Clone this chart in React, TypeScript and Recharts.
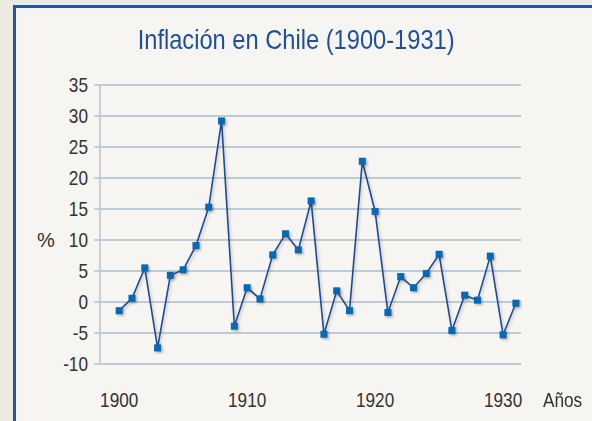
import { LineChart, Line, XAxis, YAxis, CartesianGrid } from "recharts";

const FONT = '"Liberation Sans", Arial, sans-serif';
const SQUEEZE = 0.86;

const years = [
  1900, 1901, 1902, 1903, 1904, 1905, 1906, 1907, 1908, 1909, 1910, 1911, 1912, 1913, 1914, 1915,
  1916, 1917, 1918, 1919, 1920, 1921, 1922, 1923, 1924, 1925, 1926, 1927, 1928, 1929, 1930, 1931,
];
const inflation = [
  -1.4, 0.6, 5.5, -7.4, 4.3, 5.2, 9.1, 15.3, 29.2, -3.9, 2.3, 0.5, 7.6, 11.0, 8.4, 16.3,
  -5.2, 1.8, -1.4, 22.7, 14.6, -1.7, 4.1, 2.3, 4.6, 7.7, -4.6, 1.1, 0.3, 7.4, -5.3, -0.2,
];
const xTicks = [1900, 1910, 1920, 1930];
const yTicks = [-10, -5, 0, 5, 10, 15, 20, 25, 30, 35];

const data = years.map((year, i) => ({ year, value: inflation[i] }));

const GRID = "#a9bccd";

// the original uses a condensed face; squeeze a regular one instead
function NarrowTick(props: any) {
  const { x, y, payload, textAnchor, dy } = props;
  return (
    <text
      x={x}
      y={y}
      dy={dy}
      textAnchor={textAnchor}
      fontSize={20}
      fill="#333"
      fontFamily={FONT}
      transform={`translate(${x},${y}) scale(${SQUEEZE},1) translate(${-x},${-y})`}
    >
      {payload.value}
    </text>
  );
}

function SquareDot(props: any) {
  const { cx, cy } = props;
  if (cx == null || cy == null) return null;
  return (
    <g>
      <rect x={cx - 2} y={cy - 2} width={7} height={7} fill="rgba(60,50,30,0.35)" filter="url(#blur)" />
      <rect x={cx - 3.5} y={cy - 3.5} width={7} height={7} fill="#0568b8" />
    </g>
  );
}

export default function App() {
  return (
    <div
      style={{
        position: "absolute",
        left: 0,
        top: 0,
        width: 592,
        height: 421,
        background: "#ece9e1",
        overflow: "hidden",
        fontFamily: FONT,
      }}
    >
      <div
        style={{
          position: "absolute",
          left: 13,
          top: 5,
          width: 600,
          height: 430,
          background: "#f6f5f1",
          borderLeft: "3px solid #1f56a5",
          borderTop: "3px solid #1f56a5",
        }}
      />
      <div
        style={{
          position: "absolute",
          left: 0,
          width: 592,
          top: 22,
          textAlign: "center",
          fontSize: 28,
          lineHeight: "36px",
          color: "#1f4f9c",
          transform: "scaleX(0.845)",
          transformOrigin: "297px 0",
        }}
      >
        Inflación en Chile (1900-1931)
      </div>
      <div style={{ position: "absolute", left: 37, top: 230, fontSize: 20, lineHeight: "20px", color: "#333" }}>%</div>
      <div
        style={{
          position: "absolute",
          left: 543,
          top: 390,
          fontSize: 20,
          lineHeight: "20px",
          color: "#333",
          transform: `scaleX(${SQUEEZE})`,
          transformOrigin: "0 0",
        }}
      >
        Años
      </div>
      <div style={{ position: "absolute", left: 0, top: 0 }}>
        <LineChart width={592} height={421} data={data} margin={{ top: 85, right: 71, bottom: 0, left: 0 }}>
          <defs>
            <filter id="blur" x="-50%" y="-50%" width="200%" height="200%">
              <feGaussianBlur stdDeviation="1.2" />
            </filter>
            <filter id="lineShadow" x="-10%" y="-10%" width="120%" height="120%">
              <feDropShadow dx="1.5" dy="1.5" stdDeviation="1" floodColor="#5a5040" floodOpacity="0.3" />
            </filter>
          </defs>
          <CartesianGrid vertical={false} stroke={GRID} strokeWidth={1.6} />
          <XAxis
            dataKey="year"
            type="number"
            domain={[1898.5, 1931.4]}
            ticks={xTicks}
            axisLine={false}
            tickLine={false}
            tickSize={6}
            tickMargin={23}
            height={57}
            tick={(p: any) => <NarrowTick {...p} dy="0.71em" />}
          />
          <YAxis
            type="number"
            domain={[-10, 35]}
            ticks={yTicks}
            width={100}
            axisLine={{ stroke: "#b3c6da", strokeWidth: 1.5 }}
            tickLine={{ stroke: "#b3c6da", strokeWidth: 1.5 }}
            tickSize={6}
            tickMargin={6}
            interval={0}
            tick={(p: any) => <NarrowTick {...p} dy="0.355em" />}
          />
          <Line
            dataKey="value"
            stroke="#1b4b94"
            strokeWidth={1.6}
            dot={<SquareDot />}
            activeDot={false}
            filter="url(#lineShadow)"
            isAnimationActive={false}
          />
        </LineChart>
      </div>
    </div>
  );
}
